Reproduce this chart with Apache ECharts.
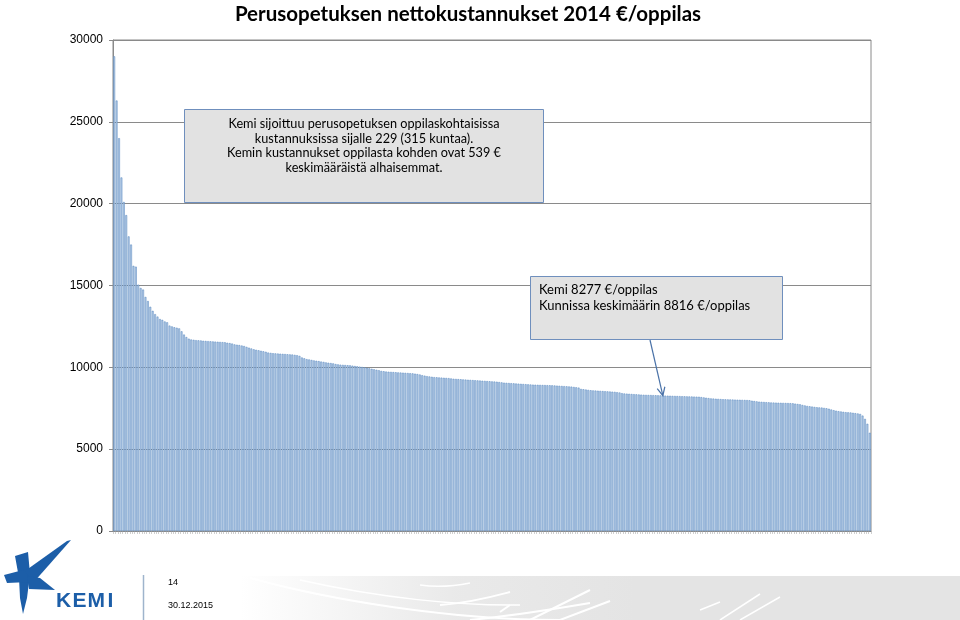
<!DOCTYPE html>
<html><head><meta charset="utf-8">
<script src="https://cdn.jsdelivr.net/npm/echarts@6/dist/echarts.min.js"></script>
<style>html,body{margin:0;padding:0;background:#fff}#c{width:960px;height:620px}</style>
</head><body><div id="c"></div>
<script>
const chartTitle = 'Perusopetuksen nettokustannukset 2014 €/oppilas';
const yTicks = [0, 5000, 10000, 15000, 20000, 25000, 30000];
// Net cost per pupil, municipalities sorted descending (315 municipalities)
const costs = [
29000,26300,24000,21600,20100,19300,18000,17500,16200,16150,
15050,14850,14750,14300,14050,13700,13450,13250,13100,12950,
12900,12800,12750,12550,12500,12450,12420,12380,12200,12000,
11850,11750,11700,11680,11660,11650,11640,11620,11610,11600,
11590,11580,11570,11560,11550,11540,11530,11500,11480,11450,
11400,11380,11360,11330,11300,11250,11200,11150,11100,11070,
11040,11010,10980,10950,10900,10880,10860,10850,10840,10830,
10820,10810,10800,10790,10780,10760,10740,10700,10600,10550,
10500,10480,10450,10420,10400,10380,10350,10330,10300,10280,
10260,10240,10200,10180,10160,10150,10140,10130,10120,10100,
10080,10060,10040,10020,10000,9970,9940,9910,9880,9850,
9820,9780,9760,9740,9730,9720,9710,9700,9690,9680,
9670,9660,9650,9640,9630,9610,9590,9560,9520,9490,
9460,9440,9420,9400,9390,9380,9370,9360,9350,9340,
9320,9300,9290,9280,9270,9260,9250,9240,9230,9220,
9210,9200,9190,9180,9170,9160,9150,9140,9130,9120,
9100,9080,9060,9050,9040,9030,9020,9010,9000,8990,
8980,8970,8960,8950,8940,8935,8930,8925,8920,8915,
8910,8905,8900,8890,8880,8870,8860,8850,8840,8830,
8820,8800,8780,8760,8680,8660,8640,8620,8600,8590,
8580,8570,8560,8550,8540,8530,8520,8510,8500,8480,
8460,8420,8400,8390,8380,8370,8360,8350,8340,8330,
8320,8315,8310,8305,8300,8295,8290,8285,8277,8270,
8265,8260,8255,8250,8245,8240,8235,8230,8225,8220,
8215,8210,8205,8200,8180,8160,8140,8120,8100,8090,
8080,8070,8060,8050,8045,8040,8035,8030,8025,8020,
8015,8010,8005,8000,7990,7960,7940,7920,7900,7890,
7880,7870,7860,7850,7845,7840,7835,7830,7825,7820,
7815,7810,7800,7780,7760,7740,7700,7670,7640,7620,
7600,7580,7560,7550,7540,7520,7500,7470,7420,7380,
7350,7320,7300,7280,7260,7250,7240,7220,7200,7180,
7150,7050,6850,6550,6000
];
const kemiRank = 229;
const kemiValue = 8277;
const averageValue = 8816;
const note1Lines = [
  'Kemi sijoittuu perusopetuksen oppilaskohtaisissa',
  'kustannuksissa sijalle 229 (315 kuntaa).',
  'Kemin kustannukset oppilasta kohden ovat 539 €',
  'keskimääräistä alhaisemmat.'
];
const note2Lines = [
  'Kemi ' + kemiValue + ' €/oppilas',
  'Kunnissa keskimäärin ' + averageValue + ' €/oppilas'
];
const footerPage = '14';
const footerDate = '30.12.2015';
const logoText = ['K', 'E', 'M', 'I'];

const ranks = costs.map((_, i) => String(i + 1));
const chart = echarts.init(document.getElementById('c'));
const humanist = 'Lato, "Open Sans", sans-serif';
const gridColor = '#8a8a8a';

const option = {
  animation: false,
  backgroundColor: '#ffffff',
  title: {
    text: chartTitle, left: 463, top: -1, textAlign: 'center',
    textStyle: { fontFamily: humanist, fontSize: 20.5, fontWeight: 'bold', color: '#000' }
  },
  grid: { left: 113, right: 89, top: 40, bottom: 89, show: true, borderColor: gridColor, borderWidth: 1 },
  xAxis: {
    type: 'category', data: ranks,
    axisLine: { show: true, lineStyle: { color: gridColor } },
    axisTick: { show: true, interval: 0, length: 3, lineStyle: { color: '#a0a0a0', width: 0.5 } },
    axisLabel: { show: false },
    splitLine: { show: false }
  },
  yAxis: {
    type: 'value', min: yTicks[0], max: yTicks[yTicks.length - 1], interval: yTicks[1] - yTicks[0],
    axisLine: { show: true, lineStyle: { color: gridColor } },
    axisTick: { show: true, length: 4, lineStyle: { color: gridColor } },
    axisLabel: { formatter: v => String(v), fontFamily: 'Liberation Sans, Arial, sans-serif', fontSize: 12, color: '#000', margin: 10 },
    splitLine: { show: true, lineStyle: { color: gridColor, width: 1 } }
  },
  series: [{
    type: 'bar', data: costs, barCategoryGap: '25%',
    itemStyle: { color: '#bcd0e8', borderColor: '#4f81bd', borderWidth: 0.5 },
    silent: true
  }]
};
chart.setOption(option);

const blue = '#1c5ea8';
const tip = chart.convertToPixel({ seriesIndex: 0 }, [kemiRank - 1, kemiValue]);
const start = [650, 340];
const ang = Math.atan2(tip[1] - start[1], tip[0] - start[0]);
const ah = 9, aw = 0.45;
const left = [tip[0] - ah * Math.cos(ang - aw), tip[1] - ah * Math.sin(ang - aw)];
const right = [tip[0] - ah * Math.cos(ang + aw), tip[1] - ah * Math.sin(ang + aw)];
const logoFont = 'bold 21px "Liberation Sans", Arial, sans-serif';

const graphics = [
  // footer grey band with swooshes
  { type: 'rect', z: -1, shape: { x: 240, y: 576, width: 720, height: 44 },
    style: { fill: new echarts.graphic.LinearGradient(0, 0, 1, 0, [
      { offset: 0, color: 'rgba(228,228,228,0)' },
      { offset: 0.3, color: 'rgba(228,228,228,0.8)' },
      { offset: 0.55, color: '#e4e4e4' },
      { offset: 1, color: '#e4e4e4' }]) } },
  { type: 'bezierCurve', z: 0, shape: { x1: 250, y1: 578, x2: 560, y2: 620, cpx1: 330, cpy1: 600, cpx2: 450, cpy2: 620 }, style: { stroke: '#fff', lineWidth: 2, fill: null } },
  { type: 'bezierCurve', z: 0, shape: { x1: 300, y1: 580, x2: 520, y2: 605, cpx1: 380, cpy1: 598, cpx2: 460, cpy2: 606 }, style: { stroke: '#fff', lineWidth: 1.5, fill: null } },
  { type: 'bezierCurve', z: 0, shape: { x1: 420, y1: 585, x2: 470, y2: 583, cpx1: 440, cpy1: 588, cpx2: 455, cpy2: 586 }, style: { stroke: '#fff', lineWidth: 1.5, fill: null } },
  { type: 'bezierCurve', z: 0, shape: { x1: 440, y1: 605, x2: 510, y2: 592, cpx1: 470, cpy1: 603, cpx2: 495, cpy2: 596 }, style: { stroke: '#fff', lineWidth: 2, fill: null } },
  { type: 'bezierCurve', z: 0, shape: { x1: 470, y1: 620, x2: 590, y2: 603, cpx1: 520, cpy1: 615, cpx2: 560, cpy2: 608 }, style: { stroke: '#fff', lineWidth: 2, fill: null } },
  { type: 'line', z: 0, shape: { x1: 500, y1: 612, x2: 510, y2: 605 }, style: { stroke: '#fff', lineWidth: 2 } },
  { type: 'line', z: 0, shape: { x1: 530, y1: 620, x2: 590, y2: 590 }, style: { stroke: '#fff', lineWidth: 2 } },
  { type: 'line', z: 0, shape: { x1: 560, y1: 620, x2: 610, y2: 601 }, style: { stroke: '#fff', lineWidth: 2 } },
  { type: 'line', z: 0, shape: { x1: 700, y1: 610, x2: 720, y2: 602 }, style: { stroke: '#fff', lineWidth: 1.5 } },
  { type: 'line', z: 0, shape: { x1: 720, y1: 620, x2: 760, y2: 594 }, style: { stroke: '#fff', lineWidth: 1.5 } },
  { type: 'line', z: 0, shape: { x1: 740, y1: 620, x2: 780, y2: 597 }, style: { stroke: '#fff', lineWidth: 1.5 } },
  // note 1
  { type: 'rect', z: 10, shape: { x: 184.5, y: 109.5, width: 359, height: 93 },
    style: { fill: '#e2e2e2', stroke: '#6f8fbd', lineWidth: 1 } },
  { type: 'text', z: 11, x: 364, y: 117,
    style: { text: note1Lines.join('\n'), fontFamily: humanist, fontSize: 12.7, lineHeight: 14.5,
      fill: '#000', align: 'center', verticalAlign: 'top' } },
  // note 2
  { type: 'rect', z: 10, shape: { x: 530.5, y: 276.5, width: 252, height: 63 },
    style: { fill: '#e2e2e2', stroke: '#6f8fbd', lineWidth: 1 } },
  { type: 'text', z: 11, x: 539, y: 282,
    style: { text: note2Lines.join('\n'), fontFamily: humanist, fontSize: 13, lineHeight: 16,
      fill: '#000', align: 'left', verticalAlign: 'top' } },
  // arrow
  { type: 'line', z: 12, shape: { x1: start[0], y1: start[1], x2: tip[0], y2: tip[1] },
    style: { stroke: '#4a72a8', lineWidth: 1.2 } },
  { type: 'polyline', z: 12, shape: { points: [left, tip, right] },
    style: { stroke: '#4a72a8', lineWidth: 1.2, fill: null } },
  // logo
  { type: 'polygon', shape: { points: [[15,556],[28,552],[30,574],[27,598],[23,614],[20,598],[19,578]] }, style: { fill: blue } },
  { type: 'polygon', shape: { points: [[4,575],[27,569],[29,582],[7,583]] }, style: { fill: blue } },
  { type: 'polygon', shape: { points: [[25,571],[67,541],[71,540],[33,583]] }, style: { fill: blue } },
  { type: 'polygon', shape: { points: [[27,576],[40,578],[55,590],[29,589]] }, style: { fill: blue } },
  { type: 'text', x: 56, y: 591, style: { text: logoText[0], font: logoFont, fill: blue, verticalAlign: 'alphabetic' } },
  { type: 'text', x: 72.5, y: 591, style: { text: logoText[1], font: logoFont, fill: blue, verticalAlign: 'alphabetic' } },
  { type: 'text', x: 87.5, y: 591, style: { text: logoText[2], font: logoFont, fill: blue, verticalAlign: 'alphabetic' } },
  { type: 'text', x: 107.5, y: 591, style: { text: logoText[3], font: logoFont, fill: blue, verticalAlign: 'alphabetic' } },
  { type: 'line', shape: { x1: 143.5, y1: 575, x2: 143.5, y2: 620 }, style: { stroke: '#9fb4cc', lineWidth: 1.5 } },
  { type: 'text', x: 168, y: 583, style: { text: footerPage, font: '9px "Liberation Sans", Arial, sans-serif', fill: '#000', verticalAlign: 'middle' } },
  { type: 'text', x: 168, y: 606, style: { text: footerDate, font: '9px "Liberation Sans", Arial, sans-serif', fill: '#000', verticalAlign: 'middle' } }
];
chart.setOption({ graphic: graphics });
</script>
</body></html>
